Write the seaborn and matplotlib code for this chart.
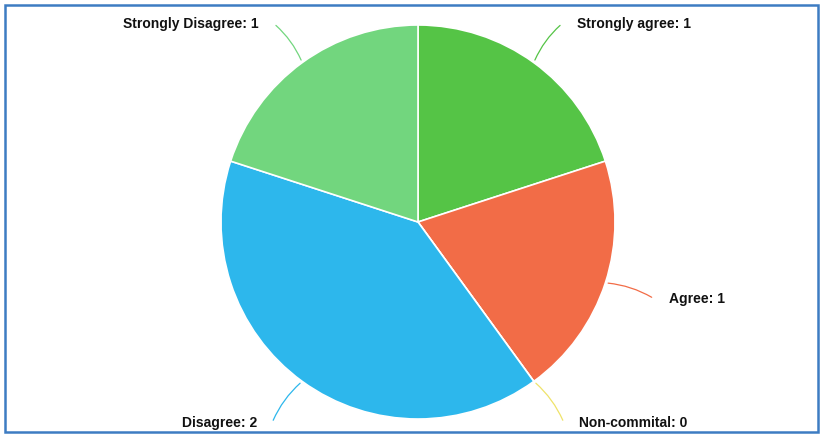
import numpy as np
import matplotlib.pyplot as plt
import matplotlib.patches as mpatches
import seaborn as sns

categories = ["Strongly agree", "Agree", "Non-commital", "Disagree", "Strongly Disagree"]
counts = [1, 1, 0, 2, 1]
colors = ["#55c446", "#f26c47", "#efe36a", "#2db7ec", "#72d67e"]

sns.set_theme(style="white")
plt.rcParams["font.family"] = ["Liberation Sans", "DejaVu Sans"]

fig = plt.figure(figsize=(8.24, 4.41), dpi=100)
ax = fig.add_axes([0, 0, 1, 1])

wedges, _ = ax.pie(counts, colors=colors, startangle=90, counterclock=False,
                   radius=1.0, wedgeprops=dict(edgecolor="white", linewidth=1.2))

# pixel-based limits so the pie sits where it does in the original
scale = 197.0
cx, cy = 418.0, 222.0
ax.set_xlim(-cx / scale, (824 - cx) / scale)
ax.set_ylim(-(441 - cy) / scale, cy / scale)
ax.set_aspect("equal")
ax.axis("off")

# labels with leader lines
total = sum(counts)
start = 90.0
for name, val, col in zip(categories, counts, colors):
    sweep = 360.0 * val / total
    mid = np.deg2rad(start - sweep / 2)
    start -= sweep
    x0, y0 = np.cos(mid), np.sin(mid)
    r = 1.245 if y0 > 0 else 1.26
    x1, y1 = r * x0, r * y0
    right = x0 >= 0
    ax.annotate("", xy=(x0, y0), xytext=(x1, y1),
                arrowprops=dict(arrowstyle="-", color=col, lw=0.9,
                                connectionstyle="arc3,rad=0.12" if right else "arc3,rad=-0.12"))
    dx = 0.075 if right else -0.075
    ax.text(x1 + dx, y1, f"{name}: {val}", ha="left" if right else "right",
            va="center", fontsize=10, fontweight="bold", color="#111111")

# frame around chart area
frame = mpatches.Rectangle((5 / 824, 9 / 441), 813 / 824, 427 / 441,
                           transform=fig.transFigure, fill=False,
                           edgecolor="#3d7cc2", linewidth=1.8)
fig.patches.append(frame)

fig.savefig("out.png", dpi=100, facecolor="white")
